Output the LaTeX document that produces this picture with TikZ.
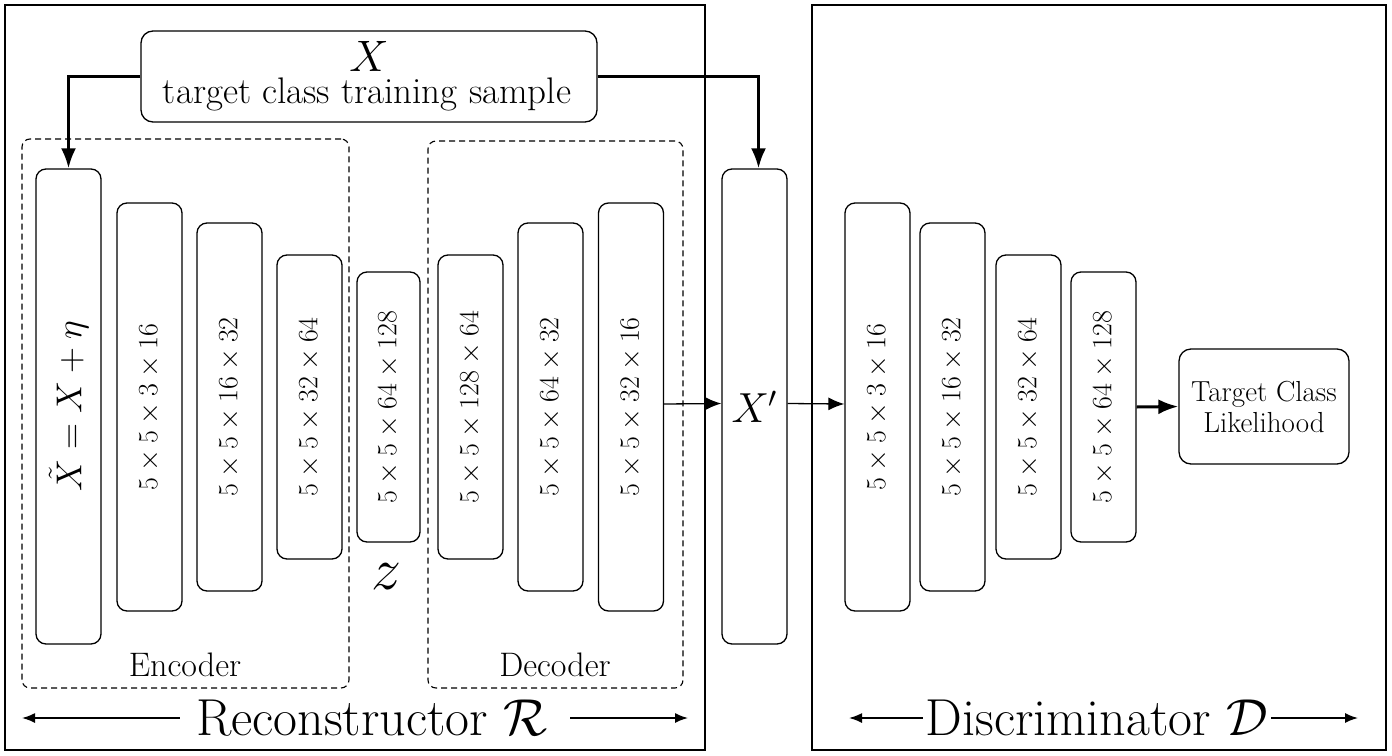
\documentclass[tikz,border=0pt]{standalone}
\usepackage{fix-cm}
\usepackage{amsmath}
\usetikzlibrary{arrows.meta}
\tikzset{
  blk/.style={draw, line width=1.3pt, rounded corners=10pt, minimum width=65pt, inner sep=0pt, font=\fontsize{28}{34}\selectfont},
  outerbox/.style={draw, line width=1.5pt, inner sep=0pt},
  grp/.style={draw, line width=1.1pt, rounded corners=8pt, inner sep=0pt, dash pattern=on 6pt off 4pt},
  bigarrow/.style={line width=3pt, -{Latex[length=20pt,width=15pt]}},
  smallarrow/.style={line width=1.3pt, -{Latex[length=16pt,width=13pt]}},
  spanarrow/.style={line width=1.6pt, -{Latex[length=13pt,width=10pt]}},
  lbl/.style={inner sep=0pt},
}
\begin{document}
\begin{tikzpicture}[x=1pt,y=-1pt]
\useasboundingbox (0,0) rectangle (1392,755);
% outer boxes
\node[outerbox, minimum width=700pt, minimum height=745pt] (rec) at (355,377.5) {};
\node[outerbox, minimum width=574pt, minimum height=745pt] (dis) at (1099,377.5) {};
% dashed groups
\node[grp, minimum width=327pt, minimum height=549pt] (enc) at (185.5,413.5) {};
\node[grp, minimum width=255pt, minimum height=547pt] (dec) at (555.5,414.5) {};
% top input box
\node[draw, line width=1.3pt, rounded corners=12pt, minimum width=456pt, minimum height=91pt, inner sep=0pt] (xbox) at (369,76.5) {};
\node[lbl, font=\fontsize{44}{44}\selectfont, anchor=base] (xl) at (369,71) {$X$};
\node[lbl, font=\fontsize{37}{40}\selectfont, anchor=base] (xs) at (367,103) {target class training sample};
% encoder blocks
\node[blk, minimum height=475pt] (xt) at (68.5,406.5) {\rotatebox{90}{\fontsize{36}{40}\selectfont $\tilde{X} = X + \eta$}};
\node[blk, minimum height=408pt] (e1) at (149.5,407) {\rotatebox{90}{$5\times5\times3\times16$}};
\node[blk, minimum height=368pt] (e2) at (229.5,407) {\rotatebox{90}{$5\times5\times16\times32$}};
\node[blk, minimum height=304pt] (e3) at (309.5,407) {\rotatebox{90}{$5\times5\times32\times64$}};
\node[blk, minimum width=63pt, minimum height=270pt] (zb) at (388.5,407) {\rotatebox{90}{$5\times5\times64\times128$}};
\node[lbl, font=\fontsize{60}{60}\selectfont] (zl) at (386,577) {$z$};
% decoder blocks
\node[blk, minimum height=304pt] (d1) at (470.5,407) {\rotatebox{90}{$5\times5\times128\times64$}};
\node[blk, minimum height=368pt] (d2) at (550.5,407) {\rotatebox{90}{$5\times5\times64\times32$}};
\node[blk, minimum height=408pt] (d3) at (631,407) {\rotatebox{90}{$5\times5\times32\times16$}};
\node[blk, minimum height=475pt] (xp) at (754.5,406.5) {\fontsize{42}{44}\selectfont $X'$};
% discriminator blocks
\node[blk, minimum height=408pt] (c1) at (877.5,407) {\rotatebox{90}{$5\times5\times3\times16$}};
\node[blk, minimum height=368pt] (c2) at (952.5,407) {\rotatebox{90}{$5\times5\times16\times32$}};
\node[blk, minimum height=304pt] (c3) at (1028.5,407) {\rotatebox{90}{$5\times5\times32\times64$}};
\node[blk, minimum height=270pt] (c4) at (1103.5,407) {\rotatebox{90}{$5\times5\times64\times128$}};
\node[draw, line width=1.3pt, rounded corners=12pt, minimum width=170pt, minimum height=115pt, inner sep=0pt, align=center, font=\fontsize{29}{31}\selectfont] (tcl) at (1264,406.5) {Target Class\\Likelihood};
% group labels
\node[lbl, font=\fontsize{34}{36}\selectfont] (encl) at (185,665) {Encoder};
\node[lbl, font=\fontsize{34}{36}\selectfont] (decl) at (555,665) {Decoder};
\node[lbl, font=\fontsize{52}{54}\selectfont] (recl) at (372,718) {Reconstructor $\mathcal{R}$};
\node[lbl, font=\fontsize{52}{54}\selectfont] (disl) at (1097,718) {Discriminator $\mathcal{D}$};
% connectors
\draw[bigarrow] (xbox.west) -| (xt.north);
\draw[bigarrow] (xbox.east) -| ([xshift=4pt]xp.north);
\draw[smallarrow] ([yshift=3pt]d3.east) -- ([yshift=3pt]xp.west);
\draw[smallarrow] ([yshift=3pt]xp.east) -- ([yshift=3pt]c1.west);
\draw[bigarrow] (c4.east) -- (tcl.west);
% span arrows
\coordinate (r1) at (22,718);
\coordinate (r2) at (688,718);
\coordinate (d1e) at (849,718);
\coordinate (d2e) at (1358,718);
\draw[spanarrow] ([xshift=-16pt]recl.west) -- (r1);
\draw[spanarrow] ([xshift=22pt]recl.east) -- (r2);
\draw[spanarrow] ([xshift=-3pt]disl.west) -- (d1e);
\draw[spanarrow] ([xshift=3pt]disl.east) -- (d2e);
\end{tikzpicture}
\end{document}
